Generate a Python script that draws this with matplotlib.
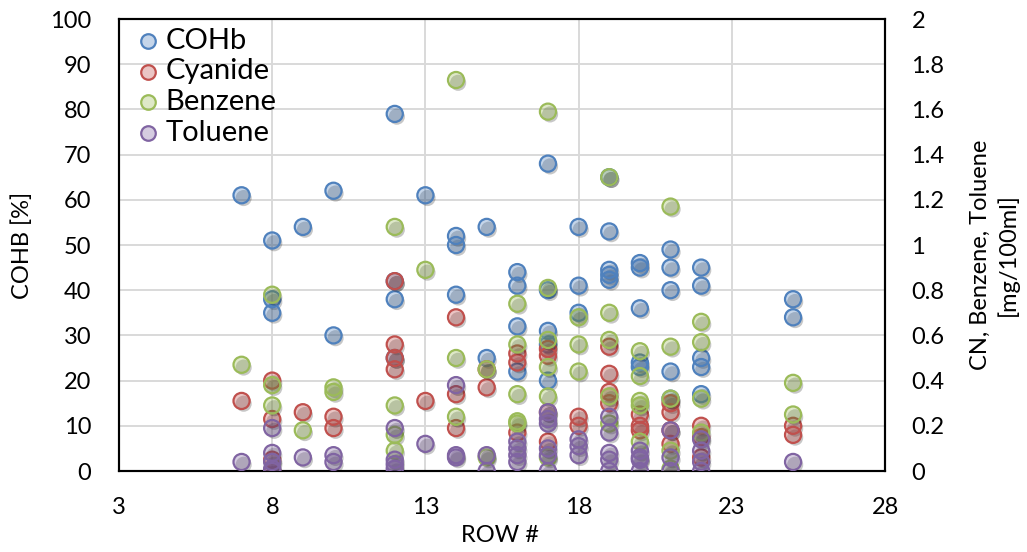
import matplotlib
matplotlib.use("Agg")
import matplotlib.pyplot as plt
import matplotlib.patheffects as pe

plt.rcParams['font.family'] = ['Lato', 'DejaVu Sans']

# ---- data ----
cohb_x = [7, 8, 8, 8, 9, 10, 10, 12, 12, 12, 12, 13, 14, 14, 14, 15, 15,
          16, 16, 16, 16, 17, 17, 17, 17, 17, 18, 18, 18, 19, 19, 19, 19, 19,
          20, 20, 20, 20, 20, 21, 21, 21, 21, 21, 22, 22, 22, 22, 22, 25, 25]
cohb_y = [61, 51, 38, 35, 54, 62, 30, 79, 42, 38, 25, 61, 52, 50, 39, 54, 25,
          44, 41, 32, 22, 68, 40, 31, 28, 20, 54, 41, 35, 65, 53, 44.5, 43.4, 42.3,
          46, 45, 36, 24, 23, 49, 45, 40, 22, 16, 45, 41, 25, 23, 17, 38, 34]

cn_x = [7, 8, 8, 8, 8, 9, 10, 10, 12, 12, 12, 12, 13, 14, 14, 14, 15, 15,
        16, 16, 16, 17, 17, 17, 17, 18, 18, 19, 19, 19, 19, 20, 20, 20,
        21, 21, 21, 21, 22, 22, 22, 25, 25]
cn_y = [0.31, 0.40, 0.23, 0.05, 0.0, 0.26, 0.24, 0.19, 0.84, 0.56, 0.50, 0.45,
        0.31, 0.68, 0.34, 0.19, 0.45, 0.37, 0.52, 0.48, 0.17, 0.54, 0.51, 0.26, 0.13,
        0.24, 0.20, 0.55, 0.43, 0.35, 0.30, 0.25, 0.20, 0.18,
        0.30, 0.26, 0.18, 0.12, 0.20, 0.15, 0.06, 0.20, 0.16]

bz_x = [7, 8, 8, 8, 9, 10, 10, 12, 12, 12, 12, 13, 14, 14, 14, 15, 15,
        16, 16, 16, 16, 16, 17, 17, 17, 17, 17, 17, 18, 18, 18,
        19, 19, 19, 19, 19, 20, 20, 20, 20, 20, 21, 21, 21, 21, 21,
        22, 22, 22, 22, 25, 25]
bz_y = [0.47, 0.78, 0.38, 0.29, 0.18, 0.37, 0.35, 1.08, 0.29, 0.16, 0.09, 0.89,
        1.73, 0.50, 0.24, 0.45, 0.06, 0.74, 0.56, 0.34, 0.22, 0.21,
        1.59, 0.81, 0.58, 0.46, 0.33, 0.06, 0.68, 0.56, 0.44,
        1.30, 0.70, 0.58, 0.33, 0.21, 0.53, 0.42, 0.31, 0.29, 0.13,
        1.17, 0.55, 0.32, 0.09, 0.01, 0.66, 0.57, 0.32, 0.17, 0.39, 0.25]

tol_x = [7, 8, 8, 8, 8, 8, 9, 10, 10, 12, 12, 12, 12, 13, 14, 14, 14, 15, 15,
         16, 16, 16, 16, 17, 17, 17, 17, 17, 17, 18, 18, 18,
         19, 19, 19, 19, 19, 20, 20, 20, 20, 21, 21, 21, 22, 22, 22, 22, 25]
tol_y = [0.04, 0.19, 0.08, 0.04, 0.01, 0.0, 0.06, 0.07, 0.04, 0.19, 0.05, 0.03, 0.01,
         0.12, 0.38, 0.07, 0.06, 0.07, 0.0, 0.13, 0.10, 0.07, 0.04,
         0.26, 0.23, 0.21, 0.10, 0.07, 0.0, 0.14, 0.11, 0.07,
         0.24, 0.17, 0.08, 0.05, 0.0, 0.09, 0.06, 0.05, 0.0,
         0.18, 0.06, 0.0, 0.14, 0.09, 0.04, 0.0, 0.04]

x_ticks = [3, 8, 13, 18, 23, 28]
left_ticks = list(range(0, 101, 10))
right_ticks = [0, 0.2, 0.4, 0.6, 0.8, 1, 1.2, 1.4, 1.6, 1.8, 2]
right_labels = ['0', '0.2', '0.4', '0.6', '0.8', '1', '1.2', '1.4', '1.6', '1.8', '2']

# ---- style ----
colors = {'COHb': '#4F81BD', 'Cyanide': '#C0504D', 'Benzene': '#9BBB59', 'Toluene': '#8064A2'}
fs = 17
shadow = [pe.SimplePatchShadow(offset=(1.5, -2.0), shadow_rgbFace='k', alpha=0.22), pe.Normal()]

W, H = 1027, 552
L, R, B, T = 119, 885, 471, 19
fig = plt.figure(figsize=(W / 100, H / 100), dpi=100)
ax = fig.add_axes([L / W, 1 - B / H, (R - L) / W, (B - T) / H])
ax2 = ax.twinx()

def sc(a, x, y, name):
    c = colors[name]
    return a.scatter(x, y, s=135, marker='o', facecolors=matplotlib.colors.to_rgba(c, 0.33),
                     edgecolors=c, linewidths=1.6, label=name, zorder=3, path_effects=shadow)

h1 = sc(ax, cohb_x, cohb_y, 'COHb')
h2 = sc(ax2, cn_x, cn_y, 'Cyanide')
h3 = sc(ax2, bz_x, bz_y, 'Benzene')
h4 = sc(ax2, tol_x, tol_y, 'Toluene')

ax.set_xlim(3, 28)
ax.set_ylim(0, 100)
ax2.set_ylim(0, 2)
ax.set_xticks(x_ticks)
ax.set_yticks(left_ticks)
ax2.set_yticks(right_ticks)
ax2.set_yticklabels(right_labels)

ax.grid(True, color='#D9D9D9', linewidth=1.4, zorder=0)
ax.set_axisbelow(True)
for a in (ax, ax2):
    a.tick_params(axis='both', length=0, labelsize=fs)
    for s in a.spines.values():
        s.set_linewidth(1.5)
        s.set_color('black')
ax.tick_params(axis='x', pad=19)
ax.tick_params(axis='y', pad=20)
ax2.tick_params(axis='y', pad=19)

fig.text(500 / W, 1 - 535 / H, 'ROW #', fontsize=fs, ha='center', va='center')
fig.text(22 / W, 1 - 245 / H, 'COHB [%]', fontsize=fs, rotation=90, ha='center', va='center')
fig.text(994 / W, 1 - 255 / H, 'CN, Benzene, Toluene\n[mg/100ml]', fontsize=fs, rotation=90,
         ha='center', va='center', multialignment='center', linespacing=1.3)

leg = ax2.legend(handles=[h1, h2, h3, h4], loc='upper left', frameon=False, fontsize=21,
                 handletextpad=0.1, borderaxespad=0.0, labelspacing=0.16,
                 handlelength=1.0, bbox_to_anchor=(0.004, 1.007))
for h in leg.legend_handles:
    h.set_path_effects([])
    h.set_sizes([110])

fig.savefig('out.png', dpi=100)
